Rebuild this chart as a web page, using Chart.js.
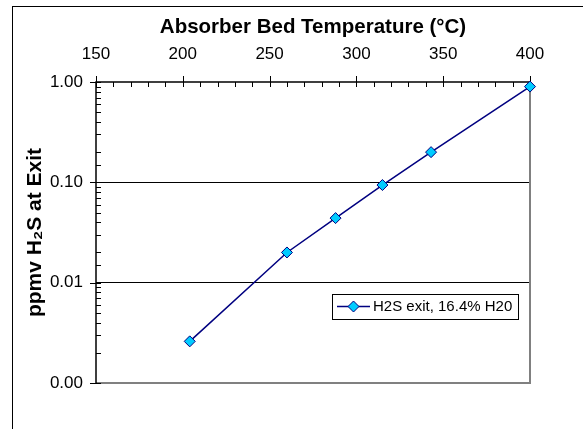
<!DOCTYPE html>
<html>
<head>
<meta charset="utf-8">
<script src="https://cdn.jsdelivr.net/npm/chart.js"></script>
<style>
  body { margin: 0; background: #fff; }
  canvas { display: block; }
</style>
</head>
<body>
<canvas id="h2sChart" width="583" height="429"></canvas>
<script>
// values
var temperatures = [204, 260, 288, 315, 343, 400];
var h2sExit = [0.0026, 0.02, 0.044, 0.094, 0.2, 0.9];
var seriesLabel = 'H2S exit, 16.4% H20';
var xTitle = 'Absorber Bed Temperature (°C)';
var yTitle = 'ppmv H₂S at Exit';

var FONT = "'Liberation Sans', Arial, sans-serif";
var LINE = '#000080';
var FILL = '#00CCFF';

function isDecade(v) {
    var l = Math.log10(v);
    return Math.abs(l - Math.round(l)) < 1e-9;
}

// outer frame, plot frame, tick marks, legend
var excelLook = {
    id: 'excelLook',
    beforeDraw: function (chart) {
        var c = chart.ctx;
        c.save();
        c.fillStyle = '#fff';
        c.fillRect(0, 0, chart.width, chart.height);
        c.strokeStyle = '#000';
        c.lineWidth = 1;
        c.strokeRect(12.5, 6.5, 700, 600);
        c.restore();
    },
    beforeDatasetsDraw: function (chart) {
        var c = chart.ctx;
        var a = chart.chartArea;
        var xs = chart.scales.x, ys = chart.scales.y;
        c.save();
        // right and bottom in grey
        c.strokeStyle = '#808080';
        c.lineWidth = 2;
        c.beginPath();
        c.moveTo(a.right, a.top);
        c.lineTo(a.right, a.bottom);
        c.lineTo(a.left, a.bottom);
        c.stroke();
        // axes in black
        c.strokeStyle = '#000';
        c.lineWidth = 1.5;
        c.beginPath();
        c.moveTo(a.left, a.bottom);
        c.lineTo(a.left, a.top);
        c.lineTo(a.right, a.top);
        c.stroke();
        c.lineWidth = 1;
        c.beginPath();
        xs.ticks.forEach(function (t) {
            var px = Math.round(xs.getPixelForValue(t.value)) + 0.5;
            var major = t.value % 50 === 0;
            c.moveTo(px, major ? a.top - 6 : a.top);
            c.lineTo(px, a.top + 5);
        });
        ys.ticks.forEach(function (t) {
            var py = Math.round(ys.getPixelForValue(t.value)) + 0.5;
            var major = isDecade(t.value);
            c.moveTo(major ? a.left - 6 : a.left, py);
            c.lineTo(a.left + 5, py);
        });
        c.stroke();
        c.restore();
    },
    afterDraw: function (chart) {
        var c = chart.ctx;
        var ds = chart.data.datasets[0];
        c.save();
        c.fillStyle = '#fff';
        c.strokeStyle = '#000';
        c.lineWidth = 1;
        c.fillRect(332.5, 294.5, 186, 25);
        c.strokeRect(332.5, 294.5, 186, 25);
        var ly = 306.5;
        c.strokeStyle = ds.borderColor;
        c.lineWidth = ds.borderWidth;
        c.beginPath();
        c.moveTo(337, ly);
        c.lineTo(370, ly);
        c.stroke();
        var r = ds.pointRadius;
        c.beginPath();
        c.moveTo(353.5 - r, ly);
        c.lineTo(353.5, ly - r);
        c.lineTo(353.5 + r, ly);
        c.lineTo(353.5, ly + r);
        c.closePath();
        c.fillStyle = ds.pointBackgroundColor;
        c.fill();
        c.lineWidth = ds.pointBorderWidth;
        c.strokeStyle = ds.pointBorderColor;
        c.stroke();
        c.fillStyle = '#000';
        c.font = '15px ' + FONT;
        c.textBaseline = 'middle';
        c.fillText(ds.label, 373, ly + 0.5);
        c.restore();
    }
};

var ctx = document.getElementById('h2sChart');
var h2sChart = new Chart(ctx, {
    type: 'scatter',
    data: {
        datasets: [{
            label: seriesLabel,
            data: temperatures.map(function (t, i) { return { x: t, y: h2sExit[i] }; }),
            showLine: true,
            borderColor: LINE,
            borderWidth: 1.5,
            pointStyle: 'rectRot',
            pointRadius: 5.5,
            pointBackgroundColor: FILL,
            pointBorderColor: LINE,
            pointBorderWidth: 1,
            clip: false
        }]
    },
    options: {
        responsive: false,
        animation: false,
        events: [],
        layout: { padding: { left: 0, right: 53, top: 0, bottom: 46 } },
        plugins: {
            legend: { display: false },
            tooltip: { enabled: false }
        },
        scales: {
            x: {
                type: 'linear',
                position: 'top',
                min: 150,
                max: 400,
                afterFit: function (s) { s.height = 82; },
                ticks: {
                    stepSize: 10,
                    autoSkip: false,
                    maxRotation: 0,
                    padding: 17,
                    color: '#000',
                    font: { family: FONT, size: 17 },
                    callback: function (v) { return v % 50 === 0 ? String(v) : ''; }
                },
                grid: { display: false, drawTicks: false },
                border: { display: false },
                title: {
                    display: true,
                    text: xTitle,
                    color: '#000',
                    font: { family: FONT, size: 20.5, weight: 'bold' },
                    padding: { top: 15, bottom: 0 }
                }
            },
            y: {
                type: 'logarithmic',
                min: 0.001,
                max: 1,
                afterFit: function (s) { s.width = 96; },
                ticks: {
                    autoSkip: false,
                    padding: 13,
                    color: '#000',
                    font: { family: FONT, size: 17 },
                    callback: function (v) { return isDecade(v) ? v.toFixed(2) : ''; }
                },
                grid: {
                    drawTicks: false,
                    lineWidth: 1,
                    color: function (c) {
                        var v = c.tick && c.tick.value;
                        return (v && isDecade(v) && v > 0.0011 && v < 0.9) ? '#000' : 'transparent';
                    }
                },
                border: { display: false },
                title: {
                    display: true,
                    text: yTitle,
                    color: '#000',
                    font: { family: FONT, size: 21, weight: 'bold' },
                    padding: { top: 23, bottom: 0 }
                }
            }
        }
    },
    plugins: [excelLook]
});
</script>
</body>
</html>
